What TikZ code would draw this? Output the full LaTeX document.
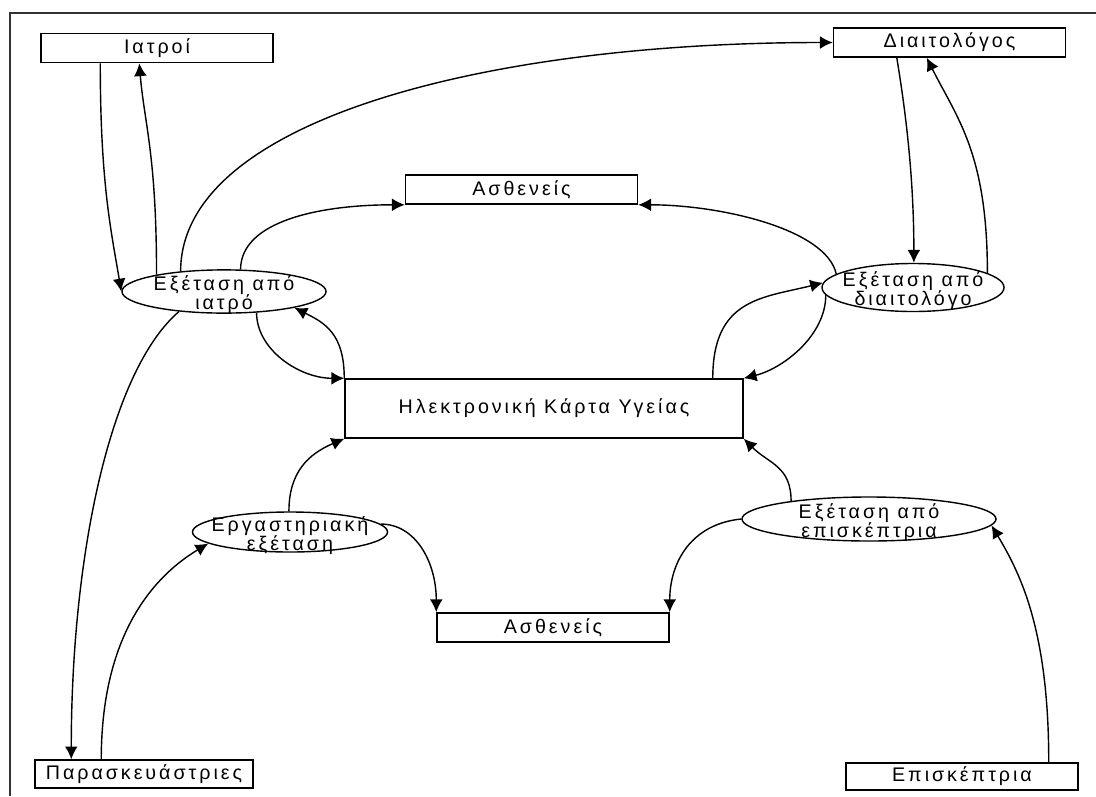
\documentclass[tikz,border=0pt]{standalone}
\usepackage{fontspec}
\setmainfont{Liberation Sans}[LetterSpace=15]
\usetikzlibrary{calc, shapes.geometric, arrows.meta}

% κείμενο δύο γραμμών χωρίς διαστάσεις μέσα στις ελλείψεις
\newcommand{\twoline}[2]{\smash{\makebox[0pt]{\raisebox{-6pt}{\begin{tabular}{@{}c@{}}#1\\#2\end{tabular}}}}}

\tikzset{
  box/.style={draw, rectangle, minimum width=5.8cm, minimum height=0.73cm, inner sep=0pt, line width=1pt},
  proc/.style={draw, ellipse, inner sep=0pt, line width=1pt},
  flow/.style={line width=1pt, -{Latex[length=3.2mm,width=3.2mm]}}
}

\begin{document}
\begin{tikzpicture}[x=0.025cm, y=-0.025cm, font=\fontsize{14}{10}\selectfont]
\useasboundingbox (0,0) rectangle (1096,796);

% πλαίσιο
\draw[black!80, line width=1pt] (10,796) -- (10,13) -- (1096,13);

% οντότητες
\node[box] (iatroi) at (157,48) {Ιατροί};
\node[box] (diait) at (949.5,42.5) {Διαιτολόγος};
\node[box] (asthA) at (521.5,189.5) {Ασθενείς};
\node[box, minimum width=9.95cm, minimum height=1.475cm] (eky) at (544,408.5) {Ηλεκτρονική Κάρτα Υγείας};
\node[box] (asthB) at (553,627.5) {Ασθενείς};
\node[box, minimum width=5.45cm, minimum height=0.7cm] (parask) at (144,774) {Παρασκευάστριες};
\node[box, minimum height=0.68cm] (episk) at (962,776.5) {Επισκέπτρια};

% διεργασίες
\node[proc, minimum width=5.1cm, minimum height=1.08cm] (exIatro) at (224,291.5) {\twoline{Εξέταση από}{ιατρό}};
\node[proc, minimum width=4.55cm, minimum height=1.2cm] (exDiait) at (913,287.5) {\twoline{Εξέταση από}{διαιτολόγο}};
\node[proc, minimum width=4.875cm, minimum height=1cm] (ergast) at (290,532) {\twoline{Εργαστηριακή}{εξέταση}};
\node[proc, minimum width=6.35cm, minimum height=1.1cm] (exEpisk) at (869,519) {\twoline{Εξέταση από}{επισκέπτρια}};

% ροές γύρω από τον ιατρό
\draw[flow] ($(iatroi.south west)+(60,0)$) .. controls +(0,120) and +(-10,-60) .. (exIatro.180);
\draw[flow] (exIatro.166) .. controls +(0,-120) and +(5,60) .. ($(iatroi.south west)+(99,0)$);
\draw[flow] (exIatro.155) .. controls +(0,-150) and +(-350,0) .. (diait.west);
\draw[flow] (exIatro.53) .. controls +(0,-48) and +(-86,0) .. (asthA.south west);
\draw[flow] (exIatro.327) .. controls +(0,37) and +(-45,0) .. (eky.north west);
\draw[flow] (eky.north west) .. controls +(0,-45) and +(30,15) .. (exIatro.347);
\draw[flow] (exIatro.204) .. controls +(-70,60) and +(0,-200) .. ($(parask.north west)+(37,0)$);

% εργαστήριο
\draw[flow] ($(parask.north west)+(67,0)$) .. controls +(0,-130) and +(-50,30) .. (ergast.188);
\draw[flow] (ergast.93) .. controls +(0,-40) and +(-35,15) .. (eky.south west);
\draw[flow] (ergast.5) .. controls +(35,0) and +(0,-50) .. (asthB.north west);

% επισκέπτρια
\draw[flow] (exEpisk.180) .. controls +(-50,5) and +(0,-50) .. (asthB.north east);
\draw[flow] (exEpisk.167) .. controls +(0,-35) and +(25,25) .. (eky.south east);
\draw[flow] ($(episk.north east)+(-30,0)$) .. controls +(0,-130) and +(30,50) .. (exEpisk.357);

% διαιτολόγος
\draw[flow] ($(diait.south west)+(64,0)$) .. controls +(10,60) and +(0,-80) .. (exDiait.88);
\draw[flow] (exDiait.11) .. controls +(0,-120) and +(30,60) .. ($(diait.south west)+(94,0)$);
\draw[flow] (exDiait.170) .. controls +(-10,-45) and +(82,0) .. (asthA.south east);
\draw[flow] ($(eky.north east)+(-31,0)$) .. controls +(0,-80) and +(-60,15) .. (exDiait.177);
\draw[flow] (exDiait.185) .. controls +(0,40) and +(40,-10) .. (eky.north east);

\end{tikzpicture}
\end{document}
